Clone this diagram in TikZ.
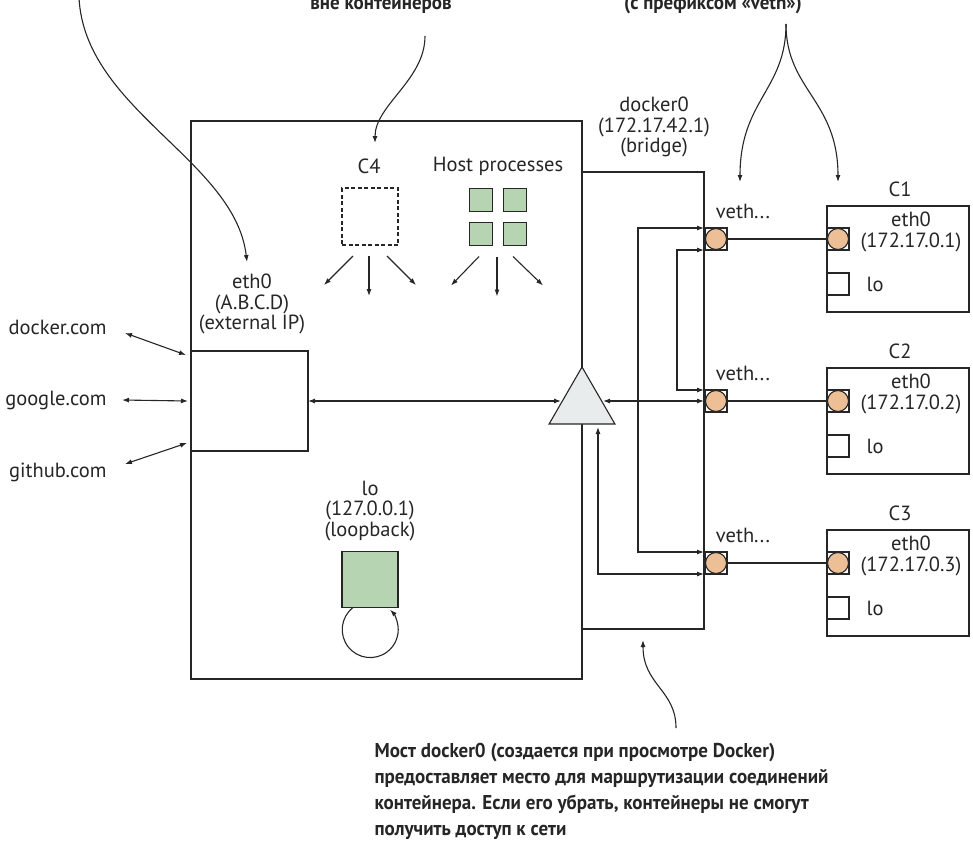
\documentclass[tikz,border=0pt]{standalone}
\usepackage{fontspec}
\setmainfont{PT Sans}
\newfontfamily\annofont[FakeStretch=0.95]{PT Sans}
\usetikzlibrary{arrows.meta,shapes.geometric,calc}
\definecolor{ink}{HTML}{262626}
\definecolor{peach}{HTML}{EDBF96}
\definecolor{leaf}{HTML}{B6D3B2}
\definecolor{trifill}{HTML}{E8ECEC}
\tikzset{
  box/.style={draw, inner sep=0pt, outer sep=0pt},
  lbl/.style={font=\fontsize{20.5}{20.5}\selectfont, align=center, inner sep=0pt},
  anno/.style={font=\annofont\bfseries\fontsize{20}{25.8}\selectfont, align=left, inner sep=0pt},
  hd/.tip={Latex[length=7pt,width=5pt]},
  arr/.style={-hd},
  darr/.style={hd-hd},
  port/.style={circle, draw, fill=peach, minimum size=21pt, inner sep=0pt, outer sep=0pt},
  portsq/.style={box, minimum size=22pt},
  proc/.style={box, fill=leaf, minimum size=23pt},
}
\begin{document}
\begin{tikzpicture}[x=1pt,y=-1pt,line width=1.1pt,color=ink]
\clip (0,0) rectangle (973,841);

% host and bridge
\node[box, minimum width=391, minimum height=558] (host) at (386.5,400) {};
\node[box, minimum width=122, minimum height=457] (bridge) at (643,400.5) {};
\node[box, minimum width=117, minimum height=100] (eth) at (249.5,401) {};
\node[regular polygon, regular polygon sides=3, draw, fill=trifill, minimum size=76, inner sep=0pt, outer sep=0pt] (br) at (582,405) {};

% labels inside host
\node[lbl] (brl) at (654,127) {docker0\\(172.17.42.1)\\(bridge)};
\node[lbl] (c4l) at (369,166) {C4};
\node[lbl] (hpl) at (498,166) {Host processes};
\node[box, dashed, dash pattern=on 4pt off 2.5pt, minimum width=56, minimum height=57] (c4) at (370,216.5) {};
\node[proc] (p1) at (481,200) {};
\node[proc] (p2) at (515,200) {};
\node[proc] (p3) at (481,234) {};
\node[proc] (p4) at (515,234) {};
\coordinate (hpb) at ($(p3.south)!0.5!(p4.south)$);

\draw[arr] ($(c4.south)+(-17,11)$) -- ++(-29,29);
\draw[arr] ($(c4.south)+(-1,11)$) -- ++(0,40);
\draw[arr] ($(c4.south)+(17,11)$) -- ++(29,29);
\draw[arr] ($(hpb)+(-19,11)$) -- ++(-28,29);
\draw[arr] ($(hpb)+(-1,11)$) -- ++(0,40);
\draw[arr] ($(hpb)+(15,11)$) -- ++(30,29);

\node[lbl] (ethl) at (252,304) {eth0\\(A.B.C.D)\\(external IP)};
\node[lbl] (lol) at (370,511) {lo\\(127.0.0.1)\\(loopback)};
\node[proc, minimum size=56] (lobox) at (370,579.5) {};
\draw[arr] ($(lobox.south)+(-17,0)$) arc[start angle=232,end angle=-45,radius=28];

% outside hosts
\node[lbl, anchor=east] (dk) at (107,327) {docker.com};
\node[lbl, anchor=east] (gg) at (107,400) {google.com};
\node[lbl, anchor=east] (gh) at (107,472) {github.com};
\draw[darr] ($(dk.east)+(18,6)$) -- ($(eth.north west)+(-5,4)$);
\draw[darr] ($(gg.east)+(15,0)$) -- ($(eth.west)+(-3,0)$);
\draw[darr] ($(gh.east)+(18,-8)$) -- ($(eth.south west)+(-4,-8)$);

% containers
\foreach \i/\yc in {1/239,2/401,3/563} {
  \node[portsq] (vsq\i) at (716,\yc) {};
  \node[port] (veth\i) at (716,\yc) {};
  \node[lbl] (vl\i) at (743,\yc-28) {veth...};
  \node[box, fill=white, minimum width=142, minimum height=106, anchor=north west] (c\i) at (827,\yc-33) {};
  \node[lbl] (cn\i) at (900,\yc-50) {C\i};
  \node[portsq] (esq\i) at (838,\yc) {};
  \node[port] (ce\i) at (838,\yc) {};
  \node[lbl] (cel\i) at (911,\yc-7) {eth0\\(172.17.0.\i)};
  \node[box, minimum size=22] (lo\i) at (838,\yc+45) {};
  \node[lbl] (lot\i) at (875,\yc+45) {lo};
  \draw (vsq\i.east) -- (esq\i.west);
}

% bridge connections
\coordinate (brL) at (561,401);
\coordinate (brR) at (603,401);
\coordinate (brB) at (598,427);
\draw[darr] (eth.east) -- (brL);
\draw[darr] (brR) -- (bridge.east |- brR);
\draw[darr] (bridge.east |- vsq1.north) -- ++(-66,0) |- (bridge.east |- vsq3.north);
\draw[darr] (bridge.east |- vsq1.south) -- ++(-27,0) |- (bridge.east |- vsq2.north);
\draw[darr] (brB) |- (bridge.east |- vsq3.south);

% annotations
\node[anno, anchor=base] (t1) at (381,9) {вне контейнеров};
\node[anno, anchor=base] (t2) at (713,9) {(с префиксом «veth»)};
\node[anno, anchor=north west] (t3) at (374,743) {Мост docker0 (создается при просмотре Docker)\\предоставляет место для маршрутизации соединений\\контейнера. Если его убрать, контейнеры не смогут\\получить доступ к сети};

\coordinate (a1s) at (79,-2);
\coordinate (a1e) at (247,262);
\draw[arr] (a1s) .. controls (85,110) and (235,160) .. (a1e);
\coordinate (a2s) at (425,36);
\coordinate (a2e) at (375,143);
\draw[arr] (a2s) .. controls (425,80) and (375,105) .. (a2e);
\coordinate (a3s) at (786,24);
\coordinate (a3l) at (740,182);
\coordinate (a3r) at (838,182);
\draw[arr] (a3s) .. controls (786,90) and (740,100) .. (a3l);
\draw[arr] (a3s) .. controls (786,90) and (838,100) .. (a3r);
\coordinate (a4s) at (676,728);
\coordinate (a4e) at (643,640);
\draw[arr] (a4s) .. controls (676,690) and (643,685) .. (a4e);
\end{tikzpicture}
\end{document}
